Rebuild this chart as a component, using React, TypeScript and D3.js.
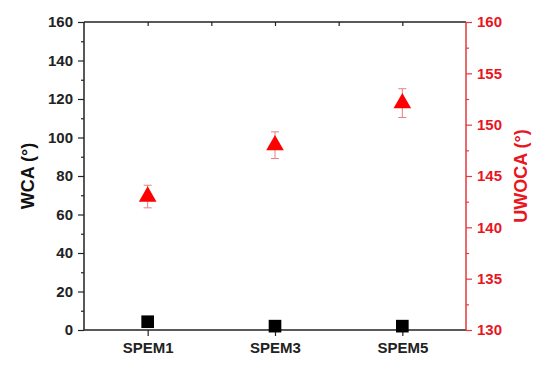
import React, { useRef, useEffect } from 'react';
import * as d3 from 'd3';

const categories = ['SPEM1', 'SPEM3', 'SPEM5'];
const wca = [4.3, 2.0, 2.0];
const uwoca = [143.0, 148.0, 152.1];
const uwocaErr = [1.1, 1.3, 1.4];

const leftTicks = [0, 20, 40, 60, 80, 100, 120, 140, 160];
const leftMinor = [10, 30, 50, 70, 90, 110, 130, 150];
const rightTicks = [130, 135, 140, 145, 150, 155, 160];
const rightMinor = [132.5, 137.5, 142.5, 147.5, 152.5, 157.5];

const RED = '#e8161e';
const RED_AXIS = '#e23a3a';
const FONT = '"Liberation Sans", Arial, sans-serif';

const draw = (svgEl) => {
  const margin = { left: 84, right: 88, top: 22, bottom: 35 };
  const width = 554;
  const height = 365;
  const x0 = margin.left;
  const x1 = width - margin.right;
  const y0 = height - margin.bottom;
  const y1 = margin.top;

  const svg = d3.select(svgEl);
  svg.selectAll('*').remove();

  const x = d3.scaleLinear().domain([0.5, 3.5]).range([x0, x1]);
  const yL = d3.scaleLinear().domain([0, 160]).range([y0, y1]);
  const yR = d3.scaleLinear().domain([130, 160]).range([y0, y1]);

  const styleAxis = (g, color) => {
    g.selectAll('path').attr('stroke', color).attr('stroke-width', 1.5);
    g.selectAll('line').attr('stroke', color).attr('stroke-width', 1.2);
    g.selectAll('text')
      .attr('fill', color)
      .style('font-family', FONT)
      .style('font-size', '15px')
      .style('font-weight', 'bold');
  };

  // top frame, ticks pointing in
  const top = svg
    .append('g')
    .attr('transform', `translate(0,${y1})`)
    .call(
      d3.axisTop(x).tickValues([1, 1.5, 2, 2.5, 3]).tickSize(-4).tickFormat(() => '')
    );
  styleAxis(top, '#222');
  top.selectAll('path').attr('d', `M${x0},0H${x1}`);

  // bottom axis
  const bottom = svg
    .append('g')
    .attr('transform', `translate(0,${y0})`)
    .call(
      d3
        .axisBottom(x)
        .tickValues(categories.map((_, i) => i + 1))
        .tickSize(6)
        .tickPadding(6)
        .tickFormat((d) => categories[d - 1])
    );
  styleAxis(bottom, '#222');
  bottom.selectAll('path').attr('d', `M${x0},0H${x1}`);

  // left axis
  const leftMinorG = svg
    .append('g')
    .attr('transform', `translate(${x0},0)`)
    .call(d3.axisLeft(yL).tickValues(leftMinor).tickSize(3).tickFormat(() => ''));
  styleAxis(leftMinorG, '#222');
  leftMinorG.selectAll('path').remove();
  const left = svg
    .append('g')
    .attr('transform', `translate(${x0},0)`)
    .call(d3.axisLeft(yL).tickValues(leftTicks).tickSize(6).tickPadding(5));
  styleAxis(left, '#222');
  left.selectAll('path').attr('d', `M0,${y0}V${y1}`);

  // right axis (red)
  const rightMinorG = svg
    .append('g')
    .attr('transform', `translate(${x1},0)`)
    .call(d3.axisRight(yR).tickValues(rightMinor).tickSize(3).tickFormat(() => ''));
  styleAxis(rightMinorG, RED_AXIS);
  rightMinorG.selectAll('path').remove();
  const right = svg
    .append('g')
    .attr('transform', `translate(${x1},0)`)
    .call(d3.axisRight(yR).tickValues(rightTicks).tickSize(6).tickPadding(5));
  styleAxis(right, RED_AXIS);
  right.selectAll('text').attr('fill', RED);
  right.selectAll('path').attr('d', `M0,${y0}V${y1}`);

  // titles
  const midY = (y0 + y1) / 2;
  svg
    .append('text')
    .attr('transform', `translate(34,${midY}) rotate(-90)`)
    .attr('text-anchor', 'middle')
    .style('font-family', FONT)
    .style('font-size', '18px')
    .style('font-weight', 'bold')
    .attr('fill', '#111')
    .text('WCA (°)');
  svg
    .append('text')
    .attr('transform', `translate(527,${midY}) rotate(-90)`)
    .attr('text-anchor', 'middle')
    .style('font-family', FONT)
    .style('font-size', '18px')
    .style('font-weight', 'bold')
    .attr('fill', RED)
    .text('UWOCA (°)');

  // WCA squares
  svg
    .append('g')
    .selectAll('path')
    .data(wca)
    .join('path')
    .attr('transform', (d, i) => `translate(${x(i + 1)},${yL(d)})`)
    .attr('d', d3.symbol(d3.symbolSquare, 160)())
    .attr('fill', '#000');

  // UWOCA error bars
  const err = svg.append('g').attr('stroke', '#e58080').attr('stroke-width', 1);
  uwoca.forEach((v, i) => {
    const cx = x(i + 1);
    const lo = yR(v - uwocaErr[i]);
    const hi = yR(v + uwocaErr[i]);
    err.append('line').attr('x1', cx).attr('x2', cx).attr('y1', lo).attr('y2', hi);
    err.append('line').attr('x1', cx - 4).attr('x2', cx + 4).attr('y1', lo).attr('y2', lo);
    err.append('line').attr('x1', cx - 4).attr('x2', cx + 4).attr('y1', hi).attr('y2', hi);
  });

  // UWOCA triangles
  svg
    .append('g')
    .selectAll('path')
    .data(uwoca)
    .join('path')
    .attr('transform', (d, i) => `translate(${x(i + 1)},${yR(d)})`)
    .attr('d', d3.symbol(d3.symbolTriangle, 135)())
    .attr('fill', '#ff0000');

  return svg.node();
};

const App = () => {
  const ref = useRef(null);
  useEffect(() => {
    if (ref.current) draw(ref.current);
  }, []);
  return (
    <svg
      ref={ref}
      width={554}
      height={365}
      style={{ position: 'absolute', left: 0, top: 0, background: '#fff' }}
    />
  );
};

export default App;
